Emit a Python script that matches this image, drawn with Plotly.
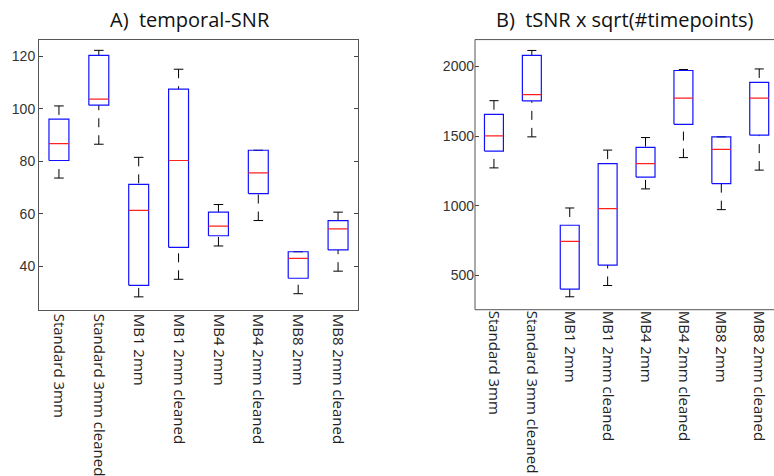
import plotly.graph_objects as go

categories = ["Standard 3mm", "Standard 3mm cleaned", "MB1 2mm", "MB1 2mm cleaned",
              "MB4 2mm", "MB4 2mm cleaned", "MB8 2mm", "MB8 2mm cleaned"]

# Panel A: temporal-SNR
tsnr_low = [73.6, 86.5, 28.3, 35.0, 47.7, 57.4, 29.5, 38.1]
tsnr_q1 = [80.3, 101.4, 32.7, 47.2, 51.6, 67.7, 35.4, 46.2]
tsnr_med = [86.7, 103.7, 61.3, 80.3, 55.3, 75.6, 43.0, 54.2]
tsnr_q3 = [96.1, 120.4, 71.2, 107.5, 60.6, 84.2, 45.5, 57.4]
tsnr_high = [101.1, 122.3, 81.5, 115.1, 63.5, 84.2, 45.5, 60.6]

# Panel B: tSNR x sqrt(#timepoints)
sq_low = [1272, 1495, 346, 427, 1121, 1346, 972, 1256]
sq_q1 = [1393, 1753, 401, 574, 1206, 1585, 1159, 1507]
sq_med = [1502, 1798, 744, 979, 1303, 1773, 1405, 1773]
sq_q3 = [1656, 2080, 860, 1303, 1419, 1972, 1495, 1886]
sq_high = [1755, 2116, 984, 1400, 1490, 1979, 1495, 1983]

tick_a = [40, 60, 80, 100, 120]
tick_b = [500, 1000, 1500, 2000]

BOX_HW = 0.25
CAP_HW = 0.12

fig = go.Figure()


def add_panel(low, q1, med, q3, high, xa, ya):
    bx, by, mx, my, wx, wy, cx, cy = [], [], [], [], [], [], [], []
    for i in range(len(categories)):
        l, r = i - BOX_HW, i + BOX_HW
        bx += [l, r, r, l, l, None]
        by += [q1[i], q1[i], q3[i], q3[i], q1[i], None]
        mx += [l, r, None]
        my += [med[i], med[i], None]
        if high[i] > q3[i]:
            wx += [i, i, None]
            wy += [high[i], q3[i], None]
        if low[i] < q1[i]:
            wx += [i, i, None]
            wy += [low[i], q1[i], None]
        cx += [i - CAP_HW, i + CAP_HW, None, i - CAP_HW, i + CAP_HW, None]
        cy += [high[i], high[i], None, low[i], low[i], None]
    common = dict(xaxis=xa, yaxis=ya, mode="lines", showlegend=False, hoverinfo="skip")
    fig.add_trace(go.Scatter(x=wx, y=wy, line=dict(color="black", width=1, dash="9px,8px"), **common))
    fig.add_trace(go.Scatter(x=cx, y=cy, line=dict(color="black", width=1), **common))
    fig.add_trace(go.Scatter(x=bx, y=by, line=dict(color="#1010ff", width=1.2), **common))
    fig.add_trace(go.Scatter(x=mx, y=my, line=dict(color="#ff2020", width=1.2), **common))


add_panel(tsnr_low, tsnr_q1, tsnr_med, tsnr_q3, tsnr_high, "x", "y")
add_panel(sq_low, sq_q1, sq_med, sq_q3, sq_high, "x2", "y2")

W, H = 774, 476
ydom = [1 - 313 / H, 1 - 40 / H]
tickfont_num = dict(family="Liberation Sans, Arial", size=14, color="#333")
tickfont_cat = dict(family="Open Sans", size=15, color="#222")
title_font = dict(family="Open Sans", size=20, color="#111")

xcommon = dict(tickvals=list(range(len(categories))), ticktext=categories, tickangle=90,
               ticks="", tickfont=tickfont_cat, showgrid=False, zeroline=False)
ycommon = dict(ticks="inside", ticklen=4, tickcolor="#444", tickfont=tickfont_num,
               showgrid=False, zeroline=False)

fig.update_layout(
    width=W, height=H,
    margin=dict(l=0, r=0, t=0, b=0),
    paper_bgcolor="white", plot_bgcolor="white",
    xaxis=dict(domain=[39 / W, 358 / W], range=[-0.5, 7.5], anchor="y",
               showline=True, mirror=True, linecolor="#555", linewidth=1, **xcommon),
    yaxis=dict(domain=ydom, range=[23.4, 126.4], tickvals=tick_a, anchor="x",
               showline=True, mirror="ticks", linecolor="#555", linewidth=1, **ycommon),
    xaxis2=dict(domain=[475 / W, 1.0], range=[-0.5, 7.39], anchor="y2",
                showline=False, **xcommon),
    yaxis2=dict(domain=ydom, range=[253, 2194], tickvals=tick_b, anchor="x2",
                showline=False, **ycommon),
    shapes=[dict(type="rect", xref="x2 domain", yref="y2 domain", x0=0, x1=1.05, y0=0, y1=1,
                 line=dict(color="#555", width=1), layer="above")],
    annotations=[
        dict(text="A)\u00a0\u00a0temporal-SNR", xref="paper", yref="paper", x=190 / W, y=1 - 20 / H,
             xanchor="center", yanchor="middle", showarrow=False, font=title_font),
        dict(text="B)\u00a0\u00a0tSNR x sqrt(#timepoints)", xref="paper", yref="paper", x=625 / W,
             y=1 - 20 / H, xanchor="center", yanchor="middle", showarrow=False, font=title_font),
    ],
)

fig.write_html("out.html")
